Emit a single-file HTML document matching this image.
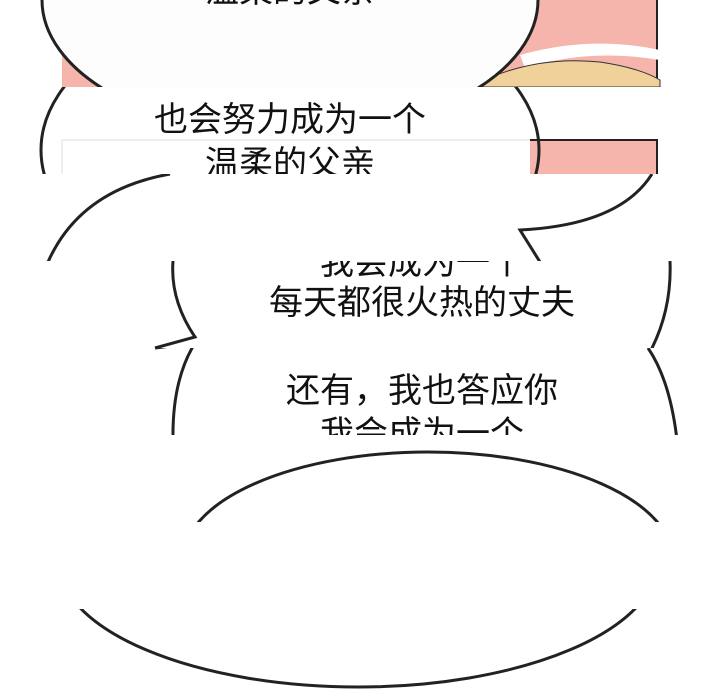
<!DOCTYPE html>
<html><head><meta charset="utf-8"><style>
html,body{margin:0;padding:0;background:#fff;width:720px;height:700px;overflow:hidden}
text{font-family:"Liberation Sans","Noto Sans CJK SC",sans-serif;font-size:34px;fill:#111;text-anchor:middle}
</style></head><body>
<svg width="720" height="700" viewBox="0 0 720 700" xmlns="http://www.w3.org/2000/svg">
<defs>
<clipPath id="c1"><rect x="0" y="0" width="720" height="87"/></clipPath>
<clipPath id="c2"><rect x="0" y="87" width="720" height="87"/></clipPath>
<clipPath id="c3"><rect x="0" y="174" width="720" height="87"/></clipPath>
<clipPath id="c4"><rect x="0" y="261" width="720" height="87"/></clipPath>
<clipPath id="c5"><rect x="0" y="348" width="720" height="87"/></clipPath>
<clipPath id="c6"><rect x="0" y="435" width="720" height="87"/></clipPath>
<clipPath id="c8"><rect x="0" y="609" width="720" height="91"/></clipPath>
</defs>
<rect width="720" height="700" fill="#fff"/>
<g clip-path="url(#c1)">
<rect x="62" y="0" width="596" height="87" fill="#f5b5ac"/>
<line x1="657" y1="0" x2="657" y2="87" stroke="#222" stroke-width="2"/>
<path d="M520,55 Q590,35 660,50 L660,60 Q590,48 525,68 Z" fill="#fff"/>
<path d="M470,87 Q530,55 600,62 Q640,68 660,80 L660,87 Z" fill="#f0d19a" stroke="#333" stroke-width="1"/>
<ellipse cx="290" cy="0" rx="248" ry="135" fill="#fdfdfd" stroke="#222" stroke-width="3"/>
<text x="290" y="2">温柔的父亲</text>
</g>
<g clip-path="url(#c2)">
<rect x="62" y="140" width="596" height="40" fill="#fff"/>
<rect x="530" y="140" width="127" height="40" fill="#f5b5ac"/>
<line x1="530" y1="140" x2="658" y2="140" stroke="#222" stroke-width="2"/>
<line x1="657" y1="140" x2="657" y2="175" stroke="#222" stroke-width="2"/>
<line x1="62" y1="140" x2="530" y2="140" stroke="#ddd" stroke-width="1"/>
<line x1="62" y1="140" x2="62" y2="175" stroke="#ddd" stroke-width="1"/>
<ellipse cx="290" cy="150" rx="249" ry="150" fill="#fff" fill-opacity="0" stroke="#222" stroke-width="3"/>
<text x="290" y="131">也会努力成为一个</text>
<text x="290" y="175">温柔的父亲</text>
</g>
<g clip-path="url(#c3)">
<path d="M48,262 Q80,190 170,174" fill="none" stroke="#222" stroke-width="3"/>
<path d="M652,174 Q620,225 520,230 L540,262" fill="none" stroke="#222" stroke-width="3"/>
</g>
<g clip-path="url(#c4)">
<path d="M173,261 Q170,300 195,337 L155,348" fill="none" stroke="#222" stroke-width="3"/>
<path d="M670,261 Q672,310 650,352" fill="none" stroke="#222" stroke-width="3"/>
<text x="422" y="274">我会成为一个</text>
<text x="422" y="314">每天都很火热的丈夫</text>
</g>
<g clip-path="url(#c5)">
<path d="M155,348 L195,343 Q172,380 173,440" fill="none" stroke="#222" stroke-width="3"/>
<path d="M648,348 Q670,380 677,440" fill="none" stroke="#222" stroke-width="3"/>
<text x="422" y="402">还有，我也答应你</text>
<text x="422" y="445">我会成为一个</text>
</g>
<g clip-path="url(#c6)">
<ellipse cx="428" cy="560" rx="245" ry="108" fill="none" stroke="#222" stroke-width="3"/>
</g>
<g clip-path="url(#c8)">
<ellipse cx="358" cy="560" rx="300" ry="127" fill="none" stroke="#222" stroke-width="3"/>
</g>
</svg>
</body></html>
